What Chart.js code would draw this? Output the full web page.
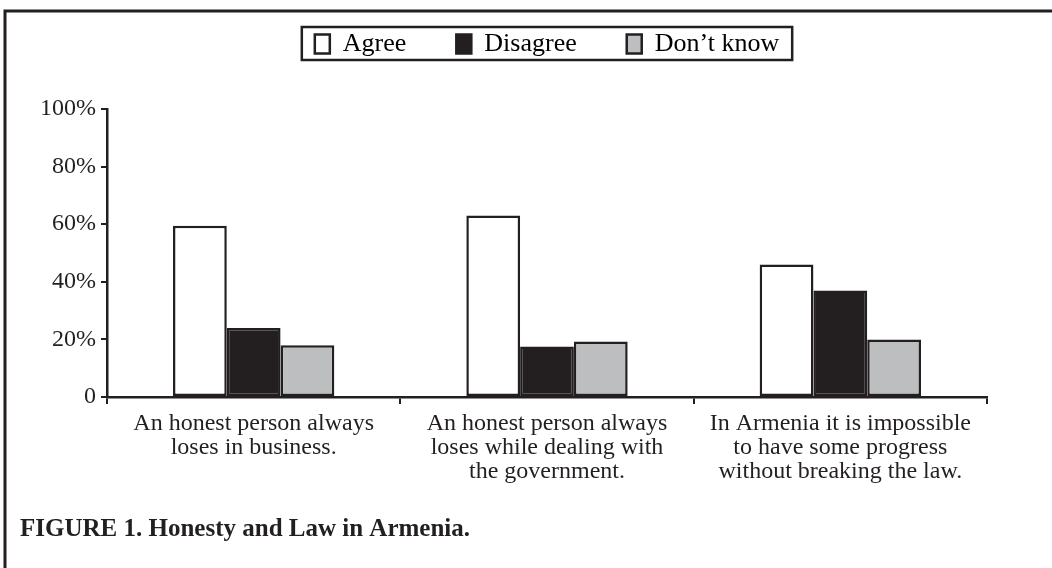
<!DOCTYPE html>
<html>
<head>
<meta charset="utf-8">
<script src="https://cdn.jsdelivr.net/npm/chart.js@4.4.1/dist/chart.umd.min.js"></script>
<style>
  html, body { margin: 0; padding: 0; background: #fff; }
  #wrap { width: 1052px; height: 568px; }
</style>
</head>
<body>
<div id="wrap"><canvas id="chart" width="1052" height="568"></canvas></div>
<script>
const categories = [
  ['An honest person always', 'loses in business.'],
  ['An honest person always', 'loses while dealing with', 'the government.'],
  ['In Armenia it is impossible', 'to have some progress', 'without breaking the law.']
];
const agree = [59.5, 63, 46];
const disagree = [24, 17.5, 37];
const dontKnow = [18, 19.3, 20];
const yTicks = [0, 20, 40, 60, 80, 100];
const caption = 'FIGURE 1. Honesty and Law in Armenia.';

const ink = '#231f20';
const serif = '"Liberation Serif", "Times New Roman", serif';

// frame, legend box and caption
const decor = {
  id: 'decor',
  beforeInit(chart) {
    const fit = chart.legend.fit;
    chart.legend.fit = function () {
      fit.bind(chart.legend)();
      this.height += 42;
    };
  },
  afterDraw(chart) {
    const ctx = chart.ctx;
    ctx.save();
    ctx.strokeStyle = ink;
    ctx.lineWidth = 3;
    ctx.beginPath();
    ctx.moveTo(5, 568);
    ctx.lineTo(5, 11);
    ctx.lineTo(1052, 11);
    ctx.stroke();

    const boxes = chart.legend.legendHitBoxes;
    if (boxes && boxes.length) {
      const l = Math.min(...boxes.map(b => b.left)) - 13;
      const r = Math.max(...boxes.map(b => b.left + b.width)) + 13;
      ctx.lineWidth = 2.5;
      ctx.strokeRect(l, 27, r - l, 33);
    }

    ctx.fillStyle = ink;
    ctx.font = 'bold 25px ' + serif;
    ctx.textBaseline = 'middle';
    ctx.fillText(caption, 20, 530);
    ctx.restore();
  }
};

new Chart(document.getElementById('chart'), {
  type: 'bar',
  data: {
    labels: categories,
    datasets: [
      { label: 'Agree', data: agree, backgroundColor: '#ffffff' },
      { label: 'Disagree', data: disagree, backgroundColor: ink },
      { label: 'Don\u2019t know', data: dontKnow, backgroundColor: '#bcbec0' }
    ].map(d => Object.assign(d, {
      borderColor: ink,
      borderWidth: 2.5,
      borderSkipped: false,
      categoryPercentage: 0.55,
      barPercentage: 1
    }))
  },
  options: {
    responsive: false,
    animation: false,
    layout: { padding: { left: 8, right: 65, top: -19, bottom: 0 } },
    plugins: {
      tooltip: { enabled: false },
      legend: {
        position: 'top',
        fullSize: false,
        labels: {
          color: ink,
          font: { family: serif, size: 26 },
          boxWidth: 15,
          boxHeight: 19,
          padding: 50,
          useBorderRadius: false,
          generateLabels(chart) {
            return chart.data.datasets.map((d, i) => ({
              text: d.label,
              fillStyle: d.backgroundColor,
              strokeStyle: ink,
              lineWidth: 2.5,
              datasetIndex: i
            }));
          }
        }
      }
    },
    scales: {
      x: {
        afterFit(scale) { scale.height = 171; },
        border: { display: true, color: ink, width: 2.5 },
        grid: {
          offset: true,
          drawOnChartArea: false,
          drawTicks: true,
          tickLength: 7,
          color: ink,
          lineWidth: 2
        },
        ticks: {
          color: ink,
          padding: 7,
          maxRotation: 0,
          font: { family: serif, size: 24, lineHeight: 1.02 }
        }
      },
      y: {
        min: 0,
        max: 100,
        afterFit(scale) { scale.width = 99; },
        afterBuildTicks(scale) { scale.ticks = yTicks.map(v => ({ value: v })); },
        border: { display: true, color: ink, width: 2.5 },
        grid: {
          drawOnChartArea: false,
          drawTicks: true,
          tickLength: 6,
          color: ink,
          lineWidth: 2
        },
        ticks: {
          color: ink,
          padding: 5,
          font: { family: serif, size: 24 },
          callback: v => v === 0 ? '0' : v + '%'
        }
      }
    }
  },
  plugins: [decor]
});
</script>
</body>
</html>
